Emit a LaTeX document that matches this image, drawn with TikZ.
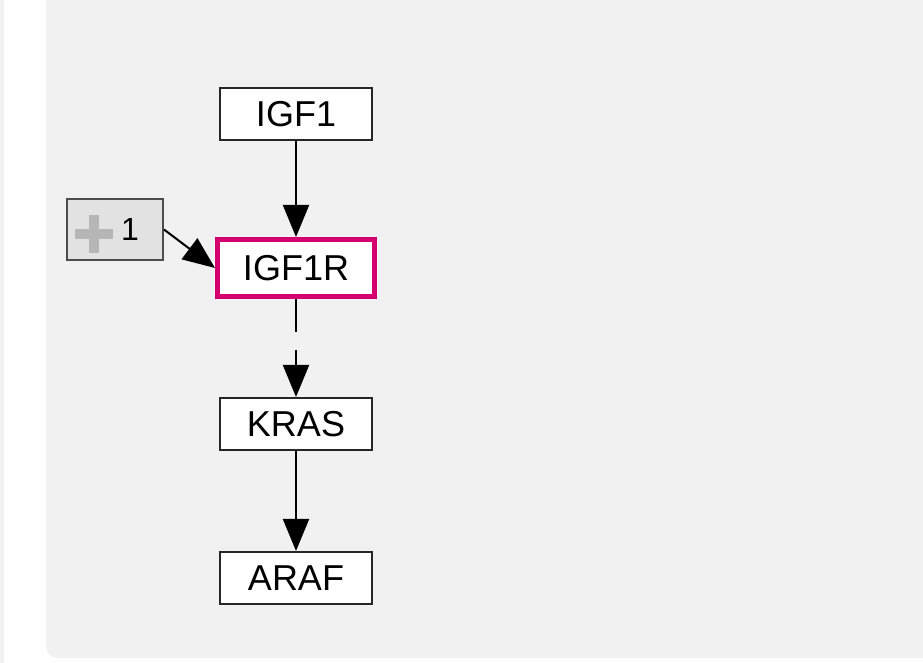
\documentclass[tikz,border=0pt]{standalone}
\usepackage{fontspec}
\setmainfont{Liberation Sans}
\usetikzlibrary{
  arrows.meta,
  positioning,
  calc
}
\definecolor{panel}{RGB}{241,241,241}
\definecolor{focus}{RGB}{212,0,112}
\definecolor{countfill}{RGB}{226,226,226}
\definecolor{plusgray}{RGB}{182,182,182}

\begin{document}
\begin{tikzpicture}[
  x=0.5pt, y=-0.5pt,
  every node/.style={font=\fontsize{18}{20}\selectfont, inner sep=0pt},
  >={Triangle[length=16pt,width=13pt]},
  genebox/.style={draw=black!85, line width=1pt, fill=white,
    minimum width=76pt, minimum height=26pt},
  focusbox/.style={draw=focus, line width=2.5pt, fill=white,
    minimum width=78.5pt, minimum height=28.5pt},
  countbox/.style={draw=black!70, line width=1pt, fill=countfill,
    minimum width=48pt, minimum height=30.5pt,
    font=\fontsize{16}{18}\selectfont},
  link/.style={->, line width=1pt, black}
]
\useasboundingbox (0,0) rectangle (923,663);

% Canvas
\fill[panel] (0,0) rectangle (4,663);
\fill[panel, rounded corners=6pt] (46,-20) rectangle (960,658);

% Pathway
\node[genebox] (igf) at (296,114) {IGF1};
\node[focusbox] (igfr) at (296,268) {IGF1R};
\node[genebox] (kras) at (296,424) {KRAS};
\node[genebox] (araf) at (296,578) {ARAF};

% Collapsed neighbours
\node[countbox] (plusone) at (115,229.5) {\hspace*{15pt}1};
\draw[plusgray, line width=5pt]
  ($(plusone.west)+(9,5)$) -- ++(38,0)
  ($(plusone.west)+(28,-14)$) -- ++(0,38);

% Edges
\draw[link] (igf) -- (igfr);
\draw[link, dash pattern=on 16.5pt off 9pt] (igfr) -- (kras);
\draw[link] (kras) -- (araf);
\draw[link] (plusone.east) -- (igfr.west);

\end{tikzpicture}
\end{document}
